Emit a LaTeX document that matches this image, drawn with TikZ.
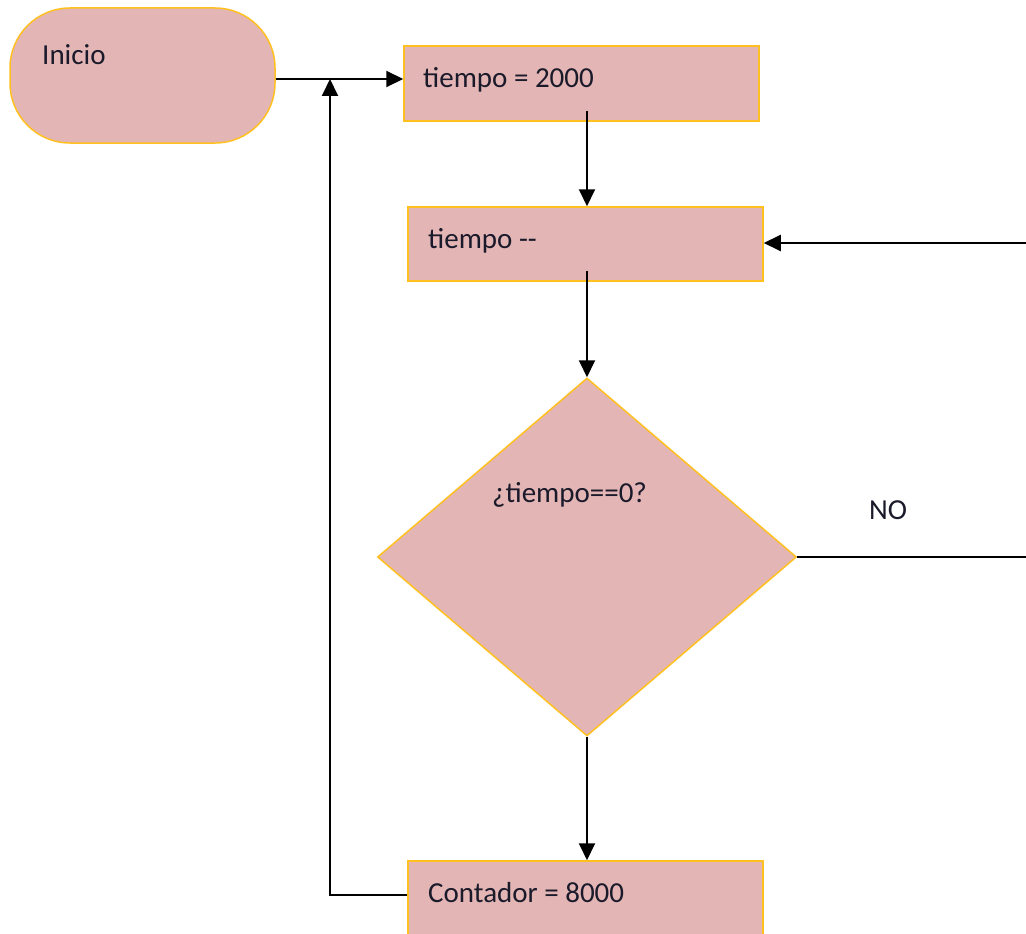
\documentclass[tikz,border=0pt]{standalone}
\usepackage{fontspec}
\setmainfont{Carlito}
\usetikzlibrary{shapes.geometric,arrows.meta}
\definecolor{boxfill}{HTML}{E3B5B5}
\definecolor{boxline}{HTML}{FFC020}
\definecolor{ink}{HTML}{1A1A2A}
\tikzset{
  shapebox/.style={draw=boxline, fill=boxfill, line width=1.5pt, inner sep=0pt},
  procbox/.style={shapebox, rectangle, minimum width=355pt, minimum height=75pt},
  label/.style={inner sep=0pt, anchor=base west, text=ink, font=\fontsize{29}{34}\selectfont},
  conn/.style={draw=black, line width=2pt},
  arrow/.style={conn, -{Triangle[length=17pt,width=16pt]}}
}
\begin{document}
\begin{tikzpicture}[x=1pt,y=-1pt]
\clip (0,0) rectangle (1026,934);
\fill[white] (0,0) rectangle (1026,934);

% flow shapes
\node[shapebox, rectangle, rounded corners=60pt, minimum width=265pt, minimum height=135pt] (inicio) at (142.5,75.5) {};
\node[procbox] (t2000) at (581.5,83.5) {};
\node[procbox, minimum height=74pt] (tdec) at (585.5,244) {};
\node[shapebox, diamond, minimum width=419pt, minimum height=358pt] (cond) at (587,557) {};
\node[procbox, minimum height=74pt] (cont) at (585.5,898) {};

% texts
\node[label] (tInicio) at (42,65) {Inicio};
\node[label] (tT2000) at (423,88) {tiempo = 2000};
\node[label] (tTdec) at (428,248) {tiempo -{}-};
\node[label] (tCond) at (492,502) {¿tiempo==0?};
\node[label] (tCont) at (428,902) {Contador = 8000};
\node[label] (tNo) at (869,519) {NO};

% junction points of the loops
\coordinate (join) at (330,79);
\coordinate (r1) at (1040,557);
\coordinate (r2) at (1040,243);

% connectors
\draw[arrow] ([yshift=-3.5pt]inicio.east) -- ([yshift=4.5pt]t2000.west);
\draw[arrow] ([xshift=5.5pt,yshift=11pt]t2000.south) -- ([xshift=1.5pt]tdec.north);
\draw[arrow] ([xshift=1.5pt,yshift=11pt]tdec.south) -- (cond.north);
\draw[arrow] (cond.south) -- ([xshift=1.5pt]cont.north);
\draw[arrow] ([yshift=3pt]cont.west) -| (join);
\draw[conn] (cond.east) -- (r1) -- (r2);
\draw[arrow] (r2) -- ([yshift=1pt]tdec.east);
\end{tikzpicture}
\end{document}
